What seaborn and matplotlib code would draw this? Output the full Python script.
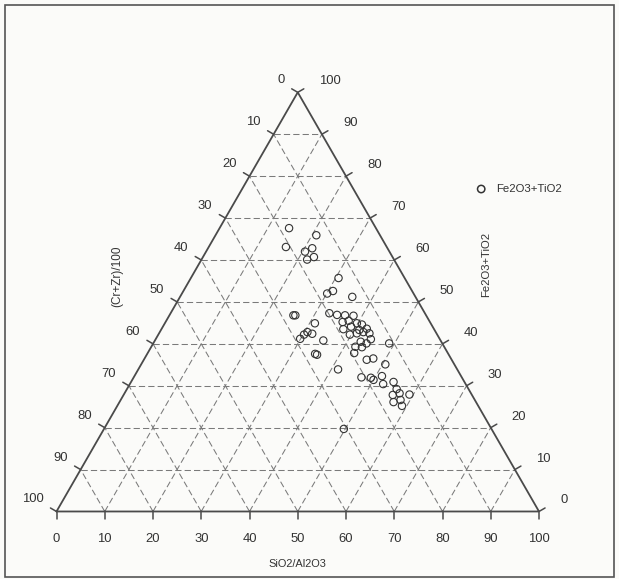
import numpy as np
import pandas as pd
import matplotlib
matplotlib.use("Agg")
import matplotlib.pyplot as plt
import seaborn as sns

# Sample compositions (percent); the three components close to 100
sio2_al2o3 = [14.4, 20.9, 16.0, 21.6, 20.5, 23.0, 21.9, 30.6, 31.0, 30.1, 35.7,
              25.7, 26.1, 31.1, 30.6, 31.8, 30.2, 29.9, 34.9, 34.8, 35.3,
              32.9, 34.7, 36.4, 38.2, 36.7, 37.8, 39.8, 41.0, 42.5, 37.7, 39.0,
              41.1, 39.7, 41.0, 42.2, 43.6, 44.6, 42.8, 44.2, 42.3, 43.7, 48.9,
              42.8, 46.2, 47.4,
              41.4, 50.6, 47.2, 49.2, 50.0, 51.3, 52.5, 54.4, 55.9, 55.8, 57.0,
              59.2, 56.8, 58.0, 59.0, 49.7]
fe2o3_tio2 = [67.6, 65.9, 63.1, 62.8, 62.0, 60.7, 60.1, 55.7, 52.6, 52.0, 51.2,
              46.8, 46.8, 44.9, 42.8, 42.4, 42.2, 41.2, 40.8, 37.6, 37.4,
              47.3, 46.9, 46.8, 46.7, 45.2, 45.5, 44.9, 44.6, 43.6, 43.5, 44.1,
              43.3, 42.2, 42.5, 42.8, 42.5, 41.1, 40.5, 40.1, 39.3, 39.2, 40.1,
              37.8, 36.2, 36.5,
              33.9, 35.1, 32.0, 31.9, 31.4, 32.3, 30.4, 30.9, 29.2, 27.8, 28.2,
              27.9, 26.1, 26.6, 25.2, 19.7]
cr_zr = [18.0, 13.2, 20.9, 15.6, 17.5, 16.3, 18.0, 13.7, 16.4, 17.9, 13.1,
         27.5, 27.1, 24.0, 26.6, 25.8, 27.6, 28.9, 24.3, 27.6, 27.3,
         19.8, 18.4, 16.8, 15.1, 18.1, 16.7, 15.3, 14.4, 13.9, 18.8, 16.9,
         15.6, 18.1, 16.5, 15.0, 13.9, 14.3, 16.7, 15.7, 18.4, 17.1, 11.0,
         19.4, 17.6, 16.1,
         24.7, 14.3, 20.8, 18.9, 18.6, 16.4, 17.1, 14.7, 14.9, 16.4, 14.8,
         12.9, 17.1, 15.4, 15.8, 30.6]

tick_values = list(range(0, 101, 10))
series_name = "Fe2O3+TiO2"
bottom_title = "SiO2/Al2O3"
left_title = "(Cr+Zr)/100"
right_title = "Fe2O3+TiO2"

H = np.sqrt(3) / 2


def tern(b, r):
    """Ternary (SiO2/Al2O3, Fe2O3+TiO2) percentages -> cartesian."""
    b = np.asarray(b, dtype=float) / 100.0
    r = np.asarray(r, dtype=float) / 100.0
    return b + r / 2.0, r * H


W_PX, H_PX = 619, 579
fig = plt.figure(figsize=(W_PX / 100, H_PX / 100), dpi=100)
sns.set_style("white")
plt.rcParams["font.family"] = ["Liberation Sans", "DejaVu Sans"]
fig.patch.set_facecolor("#fbfbf9")
ax = fig.add_axes([0, 0, 1, 1])
ax.set_facecolor("#fbfbf9")
ax.set_xlim(-0.1171, 1.1658)
ax.set_ylim(-0.1395, 1.0568)
ax.axis("off")

edge_c = "#4a4a4a"
grid_c = "#7a7a7a"
text_c = "#333333"

# dashed grid
for k in range(10, 100, 10):
    # constant Fe2O3+TiO2 (horizontal)
    x, y = tern([0, 100 - k], [k, k])
    ax.plot(x, y, color=grid_c, lw=0.75, ls=(0, (6, 3)), zorder=1)
    # constant SiO2/Al2O3
    x, y = tern([k, k], [0, 100 - k])
    ax.plot(x, y, color=grid_c, lw=0.75, ls=(0, (6, 3)), zorder=1)
    # constant Cr+Zr
    x, y = tern([100 - k, 0], [0, 100 - k])
    ax.plot(x, y, color=grid_c, lw=0.75, ls=(0, (6, 3)), zorder=1)

# triangle outline
x, y = tern([0, 100, 0, 0], [0, 0, 100, 0])
ax.plot(x, y, color=edge_c, lw=1.3, zorder=2, solid_joinstyle="miter")

tl = 0.0145
dirs = {
    "bottom": (0.0, -1.0),
    "left": (-np.cos(np.pi / 6), np.sin(np.pi / 6)),
    "right": (np.cos(np.pi / 6), np.sin(np.pi / 6)),
}
tick_fs = 9.4
for v in tick_values:
    # bottom axis: SiO2/Al2O3
    bx, by = tern(v, 0)
    d = dirs["bottom"]
    ax.plot([bx, bx + tl * d[0]], [by, by + tl * d[1]], color=edge_c, lw=1.1)
    ax.annotate(str(v), (bx, by), xytext=(0, -28), textcoords="offset pixels",
                ha="center", va="center", fontsize=tick_fs, color=text_c)
    # left axis: (Cr+Zr)/100, 0 at apex
    lx, ly = tern(0, 100 - v)
    d = dirs["left"]
    ax.plot([lx, lx + tl * d[0]], [ly, ly + tl * d[1]], color=edge_c, lw=1.1)
    ax.annotate(str(v), (lx, ly), xytext=(-13, 12), textcoords="offset pixels",
                ha="right", va="center", fontsize=tick_fs, color=text_c)
    # right axis: Fe2O3+TiO2
    rx, ry = tern(100 - v, v)
    d = dirs["right"]
    ax.plot([rx, rx + tl * d[0]], [ry, ry + tl * d[1]], color=edge_c, lw=1.1)
    ax.annotate(str(v), (rx, ry), xytext=(21, 11), textcoords="offset pixels",
                ha="left", va="center", fontsize=tick_fs, color=text_c)

# samples
px, py = tern(sio2_al2o3, fe2o3_tio2)
df = pd.DataFrame({"x": px, "y": py, "cr_zr": cr_zr})
sns.scatterplot(data=df, x="x", y="y", ax=ax, marker="o", s=28,
                facecolor="none", edgecolor="#333333", linewidth=0.8,
                label=series_name, zorder=3)
ax.set_xlabel("")
ax.set_ylabel("")

leg = ax.legend(loc="center left", bbox_to_anchor=(475.5 / W_PX, 1 - 189 / H_PX),
                bbox_transform=fig.transFigure, frameon=False, fontsize=8.2,
                handlelength=1.0, handletextpad=0.8, borderpad=0,
                borderaxespad=0)
for t in leg.get_texts():
    t.set_color(text_c)
for h in leg.legend_handles:
    h.set_linewidth(1.1)

# axis titles
fig.text(297 / W_PX, 1 - 564 / H_PX, bottom_title, ha="center", va="center",
         fontsize=7.9, color=text_c)
fig.text(117 / W_PX, 1 - 276 / H_PX, left_title, ha="center", va="center",
         rotation=90, fontsize=8.5, color=text_c)
fig.text(486.5 / W_PX, 1 - 264 / H_PX, right_title, ha="center", va="center",
         rotation=90, fontsize=8.1, color=text_c)

# outer frame
fig.add_artist(plt.Rectangle((5 / W_PX, 1 - 577 / H_PX), 609 / W_PX, 572 / H_PX,
                             transform=fig.transFigure, fill=False,
                             edgecolor="#555555", lw=1.2))

fig.savefig("out.png", dpi=100, facecolor=fig.get_facecolor())
